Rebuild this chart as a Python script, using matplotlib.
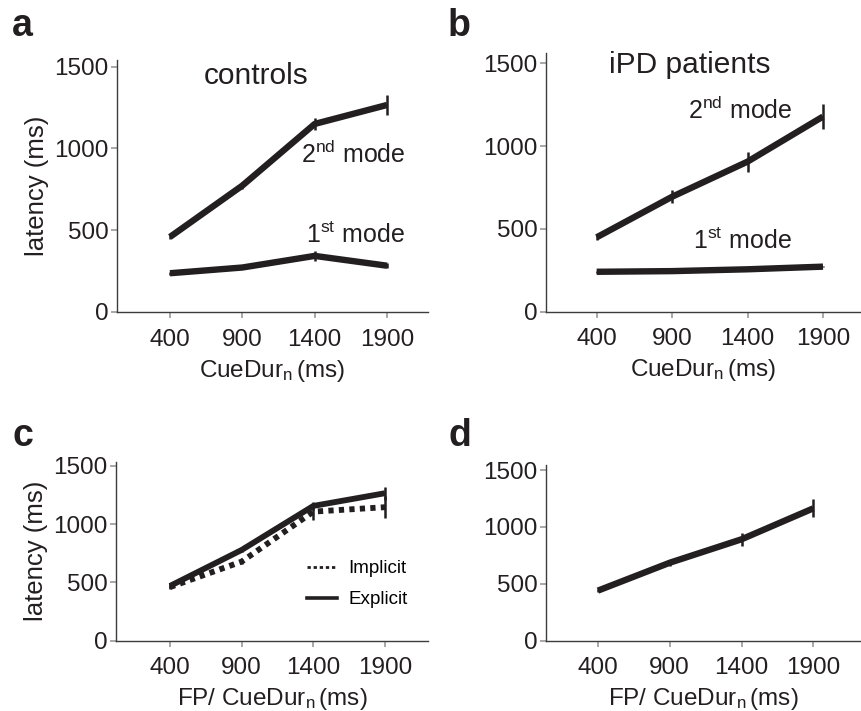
import matplotlib
matplotlib.use("Agg")
import matplotlib.pyplot as plt
from matplotlib.lines import Line2D

plt.rcParams['font.family'] = ['Liberation Sans', 'DejaVu Sans']
plt.rcParams['mathtext.fontset'] = 'custom'
plt.rcParams['mathtext.rm'] = 'Liberation Sans'
plt.rcParams['mathtext.it'] = 'Liberation Sans'

# ---- data ----
cue_dur = [400, 900, 1400, 1900]
yticks = [0, 500, 1000, 1500]

ctrl_mode2 = [459, 773, 1150, 1266]
ctrl_mode2_err = [15, 20, 37, 60]
ctrl_mode1 = [237, 272, 343, 283]
ctrl_mode1_err = [10, 10, 30, 15]

ipd_mode2 = [449, 694, 906, 1178]
ipd_mode2_err = [15, 40, 60, 78]
ipd_mode1 = [241, 245, 256, 272]
ipd_mode1_err = [5, 5, 5, 5]

c_explicit = [470, 779, 1157, 1266]
c_explicit_err = [15, 20, 37, 57]
c_implicit = [460, 679, 1108, 1146]
c_implicit_err = [15, 20, 70, 95]

d_line = [440, 685, 891, 1163]
d_line_err = [15, 25, 56, 80]

INK = '#231f20'
SPINE = '#3c3c3c'

fig = plt.figure(figsize=(8.61, 7.11), dpi=100)


def style_ax(ax, xlim, ylim):
    ax.set_xlim(*xlim)
    ax.set_ylim(*ylim)
    ax.set_xticks(cue_dur)
    ax.set_yticks(yticks)
    for s in ['top', 'right']:
        ax.spines[s].set_visible(False)
    for s in ['left', 'bottom']:
        ax.spines[s].set_color(SPINE)
        ax.spines[s].set_linewidth(1.0)
    ax.tick_params(axis='both', labelsize=17.5, colors='#999999', labelcolor=INK,
                   length=4, width=1.2)
    ax.tick_params(axis='y', pad=2)
    ax.tick_params(axis='x', pad=8)
    ax.patch.set_alpha(0)


def draw_series(ax, y, err, ls='-', lw=4.6):
    ax.plot(cue_dur, y, color=INK, lw=lw, ls=ls, solid_capstyle='butt',
            solid_joinstyle='round', dash_capstyle='butt')
    lo = [v - e for v, e in zip(y, err)]
    hi = [v + e for v, e in zip(y, err)]
    ax.vlines(cue_dur, lo, hi, color=INK, lw=1.8)


XL1 = 'CueDur$_{\\rm n}\\,$(ms)'
XL2 = 'FP/ CueDur$_{\\rm n}\\,$(ms)'

# panel a
axa = fig.add_axes([0.1359, 0.5612, 0.3612, 0.3544])
style_ax(axa, (34, 2183), (0, 1541))
draw_series(axa, ctrl_mode2, ctrl_mode2_err)
draw_series(axa, ctrl_mode1, ctrl_mode1_err)
axa.set_ylabel('latency (ms)', fontsize=18.5, color=INK, labelpad=4)
axa.set_xlabel(XL1, fontsize=17.5, color=INK, labelpad=5)
axa.text(994, 1443, 'controls', fontsize=21.5, ha='center', va='center', color=INK)
axa.text(1665, 966, '2$^{\\rm nd}$ mode', fontsize=18, ha='center', va='center', color=INK)
axa.text(1678, 471, '1$^{\\rm st}$ mode', fontsize=18, ha='center', va='center', color=INK)

# panel b
axb = fig.add_axes([0.6341, 0.5616, 0.3647, 0.3639])
style_ax(axb, (64, 2145), (0, 1562))
draw_series(axb, ipd_mode2, ipd_mode2_err)
draw_series(axb, ipd_mode1, ipd_mode1_err)
axb.set_xlabel(XL1, fontsize=17.5, color=INK, labelpad=5)
axb.text(1018, 1490, 'iPD patients', fontsize=21.5, ha='center', va='center', color=INK)
axb.text(1350, 1218, '2$^{\\rm nd}$ mode', fontsize=18, ha='center', va='center', color=INK)
axb.text(1363, 423, '1$^{\\rm st}$ mode', fontsize=18, ha='center', va='center', color=INK)

# panel c
axc = fig.add_axes([0.1347, 0.0989, 0.3624, 0.2518])
style_ax(axc, (23, 2200), (0, 1537))
draw_series(axc, c_implicit, c_implicit_err, ls=(0, (0.9, 0.9)), lw=4.2)
draw_series(axc, c_explicit, c_explicit_err, lw=4.2)
axc.set_ylabel('latency (ms)', fontsize=18.5, color=INK, labelpad=4)
axc.set_xlabel(XL2, fontsize=17.5, color=INK, labelpad=5)
handles = [Line2D([], [], color=INK, lw=2.0, ls=(0, (1.2, 1.0))),
           Line2D([], [], color=INK, lw=2.6)]
axc.legend(handles, ['Implicit', 'Explicit'], loc='upper left',
           bbox_to_anchor=(0.612, 0.45), frameon=False, fontsize=13.6,
           handlelength=1.6, handletextpad=0.6, labelspacing=0.72,
           borderpad=0, borderaxespad=0)

# panel d
axd = fig.add_axes([0.6341, 0.0989, 0.3647, 0.2471])
style_ax(axd, (38, 2225), (0, 1544))
draw_series(axd, d_line, d_line_err)
axd.set_xlabel(XL2, fontsize=17.5, color=INK, labelpad=5)

# panel letters
for letter, x, y in [('a', 12, 36), ('b', 448, 36), ('c', 12, 446), ('d', 448, 446)]:
    fig.text(x / 861, 1 - y / 711, letter, fontsize=27, fontweight='bold',
             ha='left', va='baseline', color=INK)

fig.savefig('out.png', dpi=100)
